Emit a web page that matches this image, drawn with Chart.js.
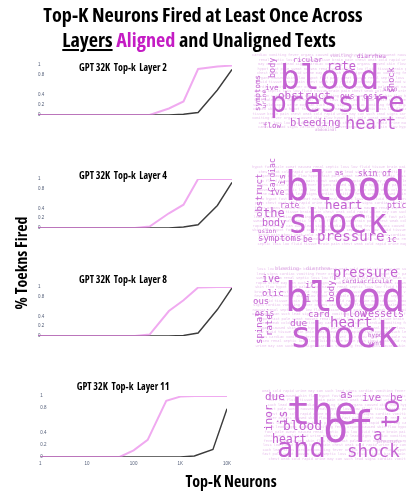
<!DOCTYPE html>
<html>
<head>
<meta charset="utf-8">
<script src="https://cdn.jsdelivr.net/npm/chart.js@4/dist/chart.umd.min.js"></script>
<style>
  html, body { margin: 0; padding: 0; background: #fff; }
  #page { position: relative; width: 406px; height: 491px; overflow: hidden; background: #fff; }
  .chart { position: absolute; }
  #overlay { position: absolute; left: 0; top: 0; pointer-events: none; }
  .cond { font-family: "Open Sans", "Liberation Sans Narrow", sans-serif; font-weight: 700; font-stretch: 75%; }
  .cloud text { font-family: "DejaVu Sans Mono", monospace; }
</style>
</head>
<body>
<div id="page">
  <canvas id="c1" class="chart"></canvas>
  <canvas id="c2" class="chart"></canvas>
  <canvas id="c3" class="chart"></canvas>
  <canvas id="c4" class="chart"></canvas>
  <svg id="overlay" width="406" height="491" xmlns="http://www.w3.org/2000/svg"></svg>
</div>
<script>
// Top-K values on the x axis (log scale)
const kValues = [1, 2, 5, 10, 20, 50, 100, 200, 500, 1000, 2000, 5000, 10000];
const xTickValues = [1, 10, 100, 1000, 10000];
const xTickLabels = ['1', '10', '100', '1K', '10K'];
const yTickValues = [0, 0.2, 0.4, 0.8, 1];

// Share of tokens with the neuron fired at least once, per layer
const layerTitles = ['GPT 32K  Top-k  Layer 2', 'GPT 32K  Top-k  Layer 4', 'GPT 32K  Top-k  Layer 8', 'GPT 32K  Top-k  Layer 11'];
const alignedL2   = [0, 0, 0, 0, 0, 0, 0, 0, 0.13, 0.27, 0.92, 0.97, 0.99];
const unalignedL2 = [0, 0, 0, 0, 0, 0, 0, 0, 0, 0.016, 0.05, 0.5, 0.91];
const alignedL4   = [0, 0, 0, 0, 0, 0, 0, 0.03, 0.3, 0.475, 1, 1, 1];
const unalignedL4 = [0, 0, 0, 0, 0, 0, 0, 0, 0, 0.02, 0.066, 0.46, 0.93];
const alignedL8   = [0, 0, 0, 0, 0, 0, 0, 0.03, 0.51, 0.73, 0.99, 1, 1];
const unalignedL8 = [0, 0, 0, 0, 0, 0, 0, 0, 0, 0.01, 0.06, 0.54, 0.98];
const alignedL11   = [0, 0, 0, 0, 0, 0, 0.11, 0.28, 0.92, 0.99, 1, 1, 1];
const unalignedL11 = [0, 0, 0, 0, 0, 0, 0, 0, 0, 0, 0.016, 0.125, 0.79];

// Most frequent words among the aligned texts for each layer
const wordsL2 = ['blood', 'pressure', 'heart', 'rate', 'bleeding', 'obstruct', 'ous', 'osis', 'ricular', 'ive', 'flow', 'skin', 'diarrhea', 'symptoms', 'body', 'urine', 'shock', 'vomiting', 'abdominal'];
const wordsL4 = ['blood', 'shock', 'pressure', 'heart', 'the', 'body', 'symptoms', 'rate', 'ive', 'skin', 'of', 'as', 'ptic', 'ic', 'usion', 'be', 'obstruct', 'Cardiac', 'is'];
const wordsL8 = ['blood', 'shock', 'pressure', 'heart', 'vessels', 'flow', 'due', 'card', 'ive', 'olic', 'ous', 'osis', 'ic', 'i', 'cardiacricular', 'bleeding', 'diarrhea', 'spinal', 'rate', 'body', 'hypot', 'vent'];
const wordsL11 = ['the', 'of', 'and', 'shock', 'blood', 'heart', 'due', 'as', 'ive', 'be', 'a', 'to', 'is', 'inor', 'pressure'];
const fillerWords = ['cardiac', 'vomiting', 'fever', 'organs', 'caused', 'skin', 'flow', 'hypot', 'fast', 'pale', 'sweat', 'nausea', 'renal', 'septic', 'loss', 'low', 'fluid', 'tissue', 'brain', 'pain', 'chest', 'weak', 'cold', 'rapid', 'urine', 'may', 'can', 'such', 'lead', 'signs'];

// Layout of each word cloud: [x, baseline y, font size, rotation]
const layoutL2 = [[280, 89, 33, 0], [270, 112, 28, 0], [345, 129, 17, 0], [327, 70, 12, 0], [290, 126, 10.5, 0], [278, 99, 11, 0], [340, 99, 8, 0], [363, 99, 8.5, 0], [293, 62, 7, 0], [265, 90, 7.5, 0], [263, 128, 7.5, 0], [383, 91, 6, 0], [357, 58, 6, 0], [260, 111, 7.5, -90], [275, 78, 8.5, -90], [266, 108, 6, -90], [394, 93, 8.5, -90], [330, 57, 4.5, 0], [315, 131, 4, 0]];
const layoutL4 = [[285, 200, 40, 0], [288, 233, 33, 0], [317, 241, 14, 0], [325, 209, 12.5, 0], [263, 217, 12, 0], [262, 226, 10, 0], [258, 241, 9, 0], [280, 208, 8, 0], [270, 195, 8, 0], [358, 176, 8, 0], [382, 176, 8, 0], [335, 175, 7, 0], [387, 208, 8, 0], [387, 242, 8, 0], [258, 233, 6, 0], [303, 242, 8, 0], [262, 217, 9, -90], [275, 192, 8, -90], [285, 185, 9, -90]];
const layoutL8 = [[285, 311, 40, 0], [290, 347, 36, 0], [333, 277, 13.5, 0], [330, 327, 14, 0], [362, 317, 10, 0], [342, 317, 10, 0], [290, 326, 9.5, 0], [308, 317, 9, 0], [262, 282, 10, 0], [262, 296, 9, 0], [253, 304, 9, 0], [255, 316, 8, 0], [305, 288, 9, 0], [305, 302, 10, 0], [342, 283, 6, 0], [275, 270, 5, 0], [306, 270, 5, 0], [262, 344, 9, -90], [272, 336, 9, -90], [334, 302, 9, -90], [368, 337, 6, 0], [368, 345, 6, 0]];
const layoutL11 = [[287, 424, 39, 0], [323, 442, 42, 0], [277, 457, 27, 0], [347, 457, 17.5, 0], [283, 430, 13, 0], [272, 443, 11.5, 0], [265, 400, 11, 0], [340, 398, 11, 0], [362, 401, 10.5, 0], [390, 401, 10.5, 0], [373, 440, 16, 0], [399, 428, 24, -90], [287, 425, 12, -90], [272, 431, 11, -90], [377, 443, 5, 0]];
const cloudBoxes = [[252, 52, 406, 132], [252, 164, 406, 246], [252, 266, 406, 350], [262, 388, 406, 460]];

const pinkLine = 'rgba(231, 122, 231, 0.64)';
const darkLine = '#3c3c3c';

function makeChart(id, top, height, aligned, unaligned, showX) {
  const cv = document.getElementById(id);
  cv.width = 200; cv.height = height;
  cv.style.left = '35px'; cv.style.top = top + 'px';
  return new Chart(cv, {
    type: 'line',
    data: {
      datasets: [
        { label: 'Aligned', data: kValues.map((k, i) => ({ x: k, y: aligned[i] })), borderColor: pinkLine, borderWidth: 2 },
        { label: 'Unaligned', data: kValues.map((k, i) => ({ x: k, y: unaligned[i] })), borderColor: darkLine, borderWidth: 1.4 }
      ]
    },
    options: {
      responsive: false, animation: false, devicePixelRatio: 1,
      layout: { padding: { top: 3, bottom: showX ? 0 : 3, left: 3, right: 3 } },
      plugins: { legend: { display: false }, tooltip: { enabled: false } },
      elements: { point: { radius: 0 }, line: { tension: 0 } },
      scales: {
        x: {
          type: 'logarithmic', min: 1, max: 10000, display: showX,
          grid: { display: false, drawTicks: false }, border: { display: false },
          afterBuildTicks: s => { s.ticks = xTickValues.map(v => ({ value: v })); },
          afterFit: s => { s.height = 12; },
          ticks: { autoSkip: false, maxRotation: 0, padding: 4, color: '#55607a', font: { size: 4.5 },
            callback: v => { const i = xTickValues.indexOf(v); return i >= 0 ? xTickLabels[i] : ''; } }
        },
        y: {
          min: 0, max: 1,
          grid: { display: false, drawTicks: false }, border: { display: false },
          afterBuildTicks: s => { s.ticks = yTickValues.map(v => ({ value: v })); },
          afterFit: s => { s.width = 0; },
          ticks: { mirror: true, padding: 0, color: '#55607a', font: { size: 4.5 }, callback: v => String(v) }
        }
      }
    }
  });
}

makeChart('c1', 62, 68, alignedL2, unalignedL2, false);
makeChart('c2', 176, 67, alignedL4, unalignedL4, false);
makeChart('c3', 284, 67, alignedL8, unalignedL8, false);
makeChart('c4', 393, 76, alignedL11, unalignedL11, true);

// Text layer: headings, axis titles and word clouds
const NS = 'http://www.w3.org/2000/svg';
const svg = document.getElementById('overlay');
function addText(parent, str, attrs, cls) {
  const t = document.createElementNS(NS, 'text');
  for (const k in attrs) t.setAttribute(k, attrs[k]);
  if (cls) t.setAttribute('class', cls);
  t.textContent = str;
  parent.appendChild(t);
  return t;
}

// Heading
addText(svg, 'Top-K Neurons Fired at Least Once Across', { x: 203, y: 22, 'text-anchor': 'middle', 'font-size': 20.2, fill: '#000' }, 'cond');
const h2 = document.createElementNS(NS, 'text');
h2.setAttribute('x', 199); h2.setAttribute('y', 47); h2.setAttribute('text-anchor', 'middle');
h2.setAttribute('font-size', 20.2); h2.setAttribute('class', 'cond');
[['Layers', '#000', true], [' ', '#000', false], ['Aligned', '#c41cc4', false], [' and Unaligned Texts', '#000', false]].forEach(([s, c, u]) => {
  const sp = document.createElementNS(NS, 'tspan');
  sp.setAttribute('fill', c);
  if (u) sp.setAttribute('text-decoration', 'underline');
  sp.textContent = s;
  h2.appendChild(sp);
});
svg.appendChild(h2);

// Axis titles
addText(svg, '% Toekns Fired', { transform: 'translate(27,263) rotate(-90)', 'text-anchor': 'middle', 'font-size': 16, fill: '#000' }, 'cond');
addText(svg, 'Top-K Neurons', { x: 231, y: 487, 'text-anchor': 'middle', 'font-size': 16, fill: '#000' }, 'cond');

// Panel titles
const titleBaselines = [70.5, 178.5, 282.5, 390];
layerTitles.forEach((t, i) => {
  const el = addText(svg, t, { x: 123, y: titleBaselines[i], 'text-anchor': 'middle', 'font-size': 10, fill: '#000' }, 'cond');
  el.setAttribute('style', 'white-space: pre');
});

// Word clouds
const clouds = [[wordsL2, layoutL2], [wordsL4, layoutL4], [wordsL8, layoutL8], [wordsL11, layoutL11]];
clouds.forEach(([words, layout], ci) => {
  const g = document.createElementNS(NS, 'g');
  g.setAttribute('class', 'cloud');
  svg.appendChild(g);
  // faint background words
  const [x0, y0, x1, y1] = cloudBoxes[ci];
  let n = ci * 7;
  for (let y = y0 + 4; y <= y1; y += 4.5) {
    let x = x0 + ((y * 3) % 7);
    while (x < x1) {
      const w = fillerWords[n % fillerWords.length];
      addText(g, w, { x: x.toFixed(1), y: y.toFixed(1), 'font-size': 3.6, fill: '#eac6ee' });
      x += w.length * 3.6 * 0.602 + 1.8;
      n++;
    }
  }
  words.forEach((w, i) => {
    const [x, y, s, r] = layout[i];
    const attrs = { x, y, 'font-size': s, fill: s < 6 ? '#dba6e2' : '#c462d2' };
    if (r) attrs.transform = `rotate(${r},${x},${y})`;
    addText(g, w, attrs);
  });
});
</script>
</body>
</html>
